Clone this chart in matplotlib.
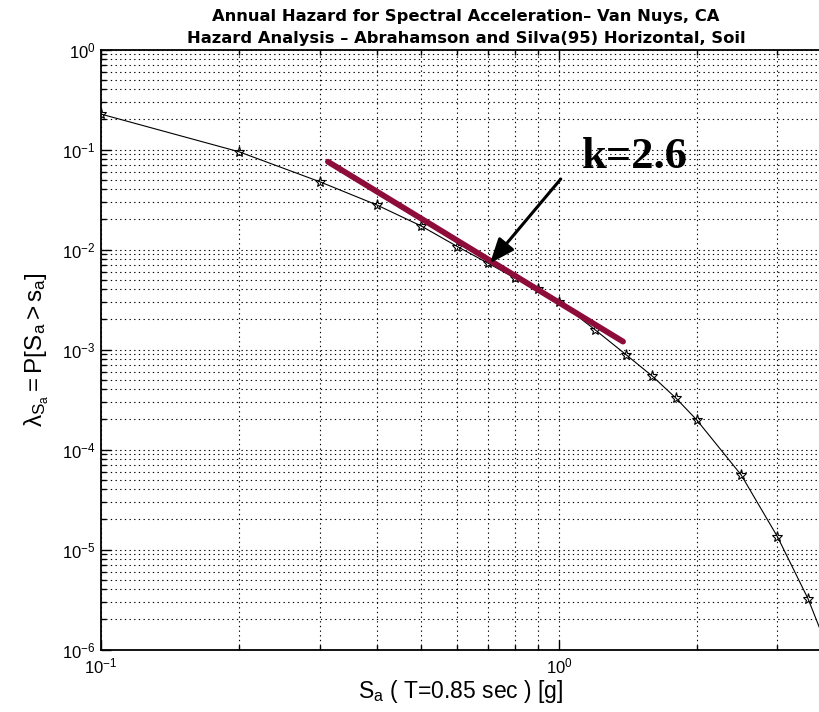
import matplotlib
matplotlib.use("Agg")
import matplotlib.pyplot as plt
from matplotlib.ticker import LogLocator, NullFormatter

# ---- data ----
sa_values = [0.1, 0.2, 0.3, 0.4, 0.5, 0.6, 0.7, 0.8, 0.9, 1.0,
             1.2, 1.4, 1.6, 1.8, 2.0, 2.5, 3.0, 3.5, 4.0]
hazard_values = [0.226, 0.095, 0.0477, 0.0279, 0.0172, 0.0107, 0.0073,
                 0.0052, 0.0040, 0.0030, 0.00157, 0.00089, 0.00054,
                 0.000327, 0.000197, 5.56e-5, 1.34e-5, 3.2e-6, 6.8e-7]

fit_x = [0.313, 1.38]
fit_y = [0.0755, 0.0012]

arrow_tail = (1.009, 0.0507)
arrow_head = (0.707, 0.00728)
k_label = "k=2.6"
k_pos = (1.122, 0.0653)

title_lines = ["Annual Hazard for Spectral Acceleration\u2013 Van Nuys, CA",
               "Hazard Analysis \u2013 Abrahamson and Silva(95) Horizontal, Soil"]
xlabel = r"$\mathregular{S_a}$ ( T=0.85 sec ) [g]"
ylabel = r"$\mathregular{\lambda_{S_a} = P[S_a > s_a]}$"

plt.rcParams['font.family'] = ['Liberation Sans', 'DejaVu Sans']
plt.rcParams['mathtext.fontset'] = 'custom'
plt.rcParams['mathtext.rm'] = 'Liberation Sans'
plt.rcParams['mathtext.it'] = 'Liberation Sans'

fig = plt.figure(figsize=(8.2, 7.12), dpi=100)
ax = fig.add_axes([101/820, (712-649.5)/712, 1 - 101/820, 600/712])

ax.set_xscale('log')
ax.set_yscale('log')
ax.set_xlim(0.1, 3.715)
ax.set_ylim(1e-6, 1e0)

ax.plot(sa_values, hazard_values, color='black', lw=0.8, marker='*',
        markersize=8, markerfacecolor='none', markeredgecolor='black',
        markeredgewidth=0.8, zorder=3, clip_on=True)

ax.plot(fit_x, fit_y, color='#8E0C3A', lw=4.2, solid_capstyle='round', zorder=4)

ax.annotate("", xy=arrow_head, xytext=arrow_tail,
            arrowprops=dict(arrowstyle='-|>,head_length=1.5,head_width=0.6',
                            color='black', lw=2.2, shrinkA=0, shrinkB=0),
            zorder=5)
ax.text(k_pos[0], k_pos[1], k_label, family='Liberation Serif',
        fontweight='bold', fontsize=32, ha='left', va='baseline', zorder=5)

ax.xaxis.set_major_locator(LogLocator(base=10, numticks=10))
ax.xaxis.set_minor_locator(LogLocator(base=10, subs=range(2, 10), numticks=20))
ax.yaxis.set_major_locator(LogLocator(base=10, numticks=10))
ax.yaxis.set_minor_locator(LogLocator(base=10, subs=range(2, 10), numticks=20))
ax.xaxis.set_minor_formatter(NullFormatter())
ax.yaxis.set_minor_formatter(NullFormatter())

ax.grid(True, which='both', color='black', linestyle=(0, (1.2, 3)), lw=0.8)
ax.tick_params(which='both', direction='in', top=True, right=False,
               labelsize=12, width=1.0)
ax.tick_params(which='major', length=7)
ax.tick_params(which='minor', length=3.5)
ax.tick_params(axis='x', pad=5)
ax.tick_params(axis='y', pad=4)
for s in ['left', 'bottom', 'top']:
    ax.spines[s].set_linewidth(1.3)
ax.spines['right'].set_visible(False)

ax.set_xlabel(xlabel, fontsize=16.5, labelpad=1)
ax.set_ylabel(ylabel, fontsize=17.5, labelpad=8)

fig.text(466/820, 1 - 16/712, title_lines[0], ha='center', va='center',
         fontsize=11.8, fontweight='bold', family='DejaVu Sans')
fig.text(466/820, 1 - 39/712, title_lines[1], ha='center', va='center',
         fontsize=11.8, fontweight='bold', family='DejaVu Sans')

fig.savefig('out.png', dpi=100)
